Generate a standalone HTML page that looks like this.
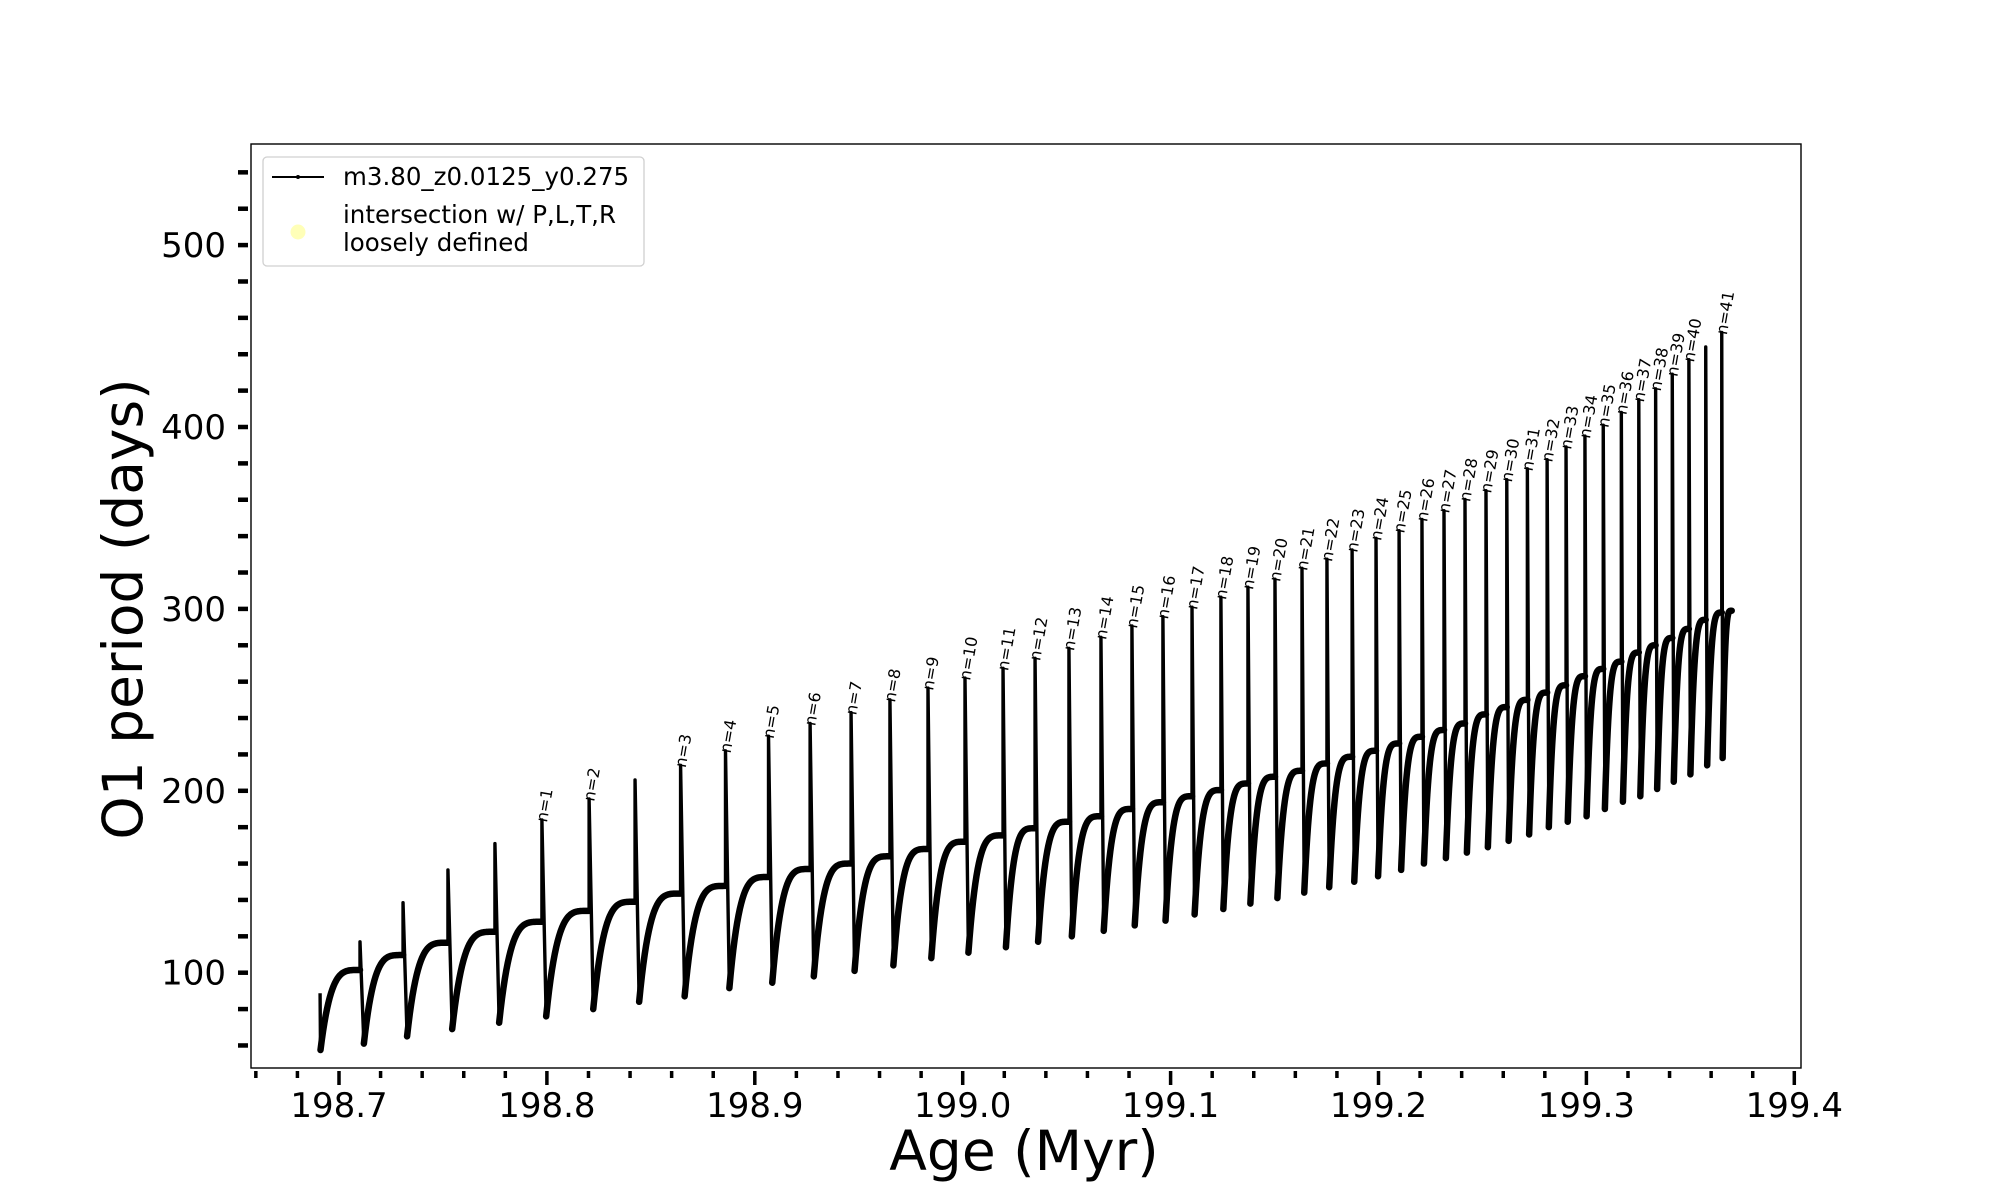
<!DOCTYPE html>
<html>
<head>
<meta charset="utf-8">
<style>
html,body{margin:0;padding:0;background:#fff;}
svg{display:block;font-family:"DejaVu Sans","Liberation Sans",sans-serif;}
</style>
</head>
<body>
<svg id="chart" width="2000" height="1200" viewBox="0 0 2000 1200" xmlns="http://www.w3.org/2000/svg">
  <rect x="0" y="0" width="2000" height="1200" fill="#fff"/>
  <g id="series"></g>
  <g id="labels"></g>
  <rect x="251" y="144" width="1550" height="924" fill="none" stroke="#000" stroke-width="1.4"/>
  <g id="xaxis"></g>
  <g id="yaxis"></g>
  <text x="1024" y="1170" font-size="55" text-anchor="middle">Age (Myr)</text>
  <text transform="translate(142,609) rotate(-90)" font-size="55" text-anchor="middle">O1 period (days)</text>
  <g>
    <rect x="263" y="157" width="381" height="109" rx="4" fill="#fff" fill-opacity="0.8" stroke="#d0d0d0" stroke-width="1.3"/>
    <line x1="272" y1="177" x2="324" y2="177" stroke="#000" stroke-width="2"/>
    <circle cx="298" cy="177" r="2" fill="#000"/>
    <text x="343" y="185" font-size="24.5">m3.80_z0.0125_y0.275</text>
    <circle cx="298" cy="232" r="7.5" fill="#ffffb8"/>
    <text x="343" y="223" font-size="24.5">intersection w/ P,L,T,R</text>
    <text x="343" y="251" font-size="24.5">loosely defined</text>
  </g>
</svg>
<script>
const spikeAge = [198.7101,198.7308,198.7524,198.7750,198.7976,198.8203,198.8424,198.8643,198.8859,198.9066,198.9266,198.9463,198.9650,198.9833,199.0011,199.0194,199.0348,199.0511,199.0665,199.0814,199.0963,199.1103,199.1242,199.1372,199.1502,199.1632,199.1752,199.1873,199.1988,199.2099,199.2209,199.2315,199.2416,199.2517,199.2617,199.2716,199.2811,199.2902,199.2993,199.3081,199.3168,199.3252,199.3333,199.3413,199.3493,199.3574,199.3651];
const peakVal = [117,138.5,156.5,171,184,195.5,206,214,222,230,237,243,250,256.5,262,267.3,272.8,278.3,284.4,290.6,295.7,300.9,306.4,311.9,316.3,322.3,327.3,332.4,338.8,343,349.2,354,360.2,365,371,377,382,389,395,401,408,415,421,429,437,444,452];
const troughVal = [61,65,69,72.5,76,80,84,87,91.5,94.5,98,101,104,108,111,114,117,120,123,126,128.6,132,135,138,141,144,147,150,153,156.5,160,163,166,169,172.5,176,180,183,186,190,194,197,201,205,209,214,218];
const plateauVal = [101.5,109.7,116.5,122.5,128,134,139,143.5,147.7,152.6,157,160,164,168,172,175.5,179.4,183,186,190,193.7,197,200.4,204,207.7,211,215,218.7,222,226,229.7,233.4,237,242,246,250,254,258,263,267,271,276,280,284,289,294,298];
const startAge = 198.6909, startVal = 88.7, startTrough = 57.5;
const endAge = 199.3699, endVal = 299;
const labelIdx = [4,5,7,8,9,10,11,12,13,14,15,16,17,18,19,20,21,22,23,24,25,26,27,28,29,30,31,32,33,34,35,36,37,38,39,40,41,42,43,44,46];
const labelNum = [1,2,3,4,5,6,7,8,9,10,11,12,13,14,15,16,17,18,19,20,21,22,23,24,25,26,27,28,29,30,31,32,33,34,35,36,37,38,39,40,41];
const xTicksMajor = [198.7,198.8,198.9,199.0,199.1,199.2,199.3,199.4];
const xTickLabels = ["198.7","198.8","198.9","199.0","199.1","199.2","199.3","199.4"];
const yTicksMajor = [100,200,300,400,500];
const yTickLabels = ["100","200","300","400","500"];

const NS = "http://www.w3.org/2000/svg";
function X(a){ return 339 + (a - 198.7) * 2079; }
function Y(v){ return 972.7 - (v - 100) * 1.819; }
function mk(tag, attrs, parent){
  const e = document.createElementNS(NS, tag);
  for (const k in attrs) e.setAttribute(k, attrs[k]);
  parent.appendChild(e);
  return e;
}
const series = document.getElementById('series');
function recovery(a0, v0, a1, v1){
  let d = "M" + X(a0).toFixed(2) + "," + Y(v0).toFixed(2);
  const N = 30;
  for (let k = 1; k <= N; k++){
    const s = k / N;
    const f = 1 - Math.pow(1 - s, 4);
    d += " L" + X(a0 + (a1 - a0) * s).toFixed(2) + "," + Y(v0 + (v1 - v0) * f).toFixed(2);
  }
  return d;
}
let recD = "", spikeD = "";
const a0t = startAge + 0.0002;
spikeD += "M" + X(startAge) + "," + Y(startVal) + " L" + X(a0t) + "," + Y(startTrough) + " ";
recD += recovery(a0t, startTrough, spikeAge[0], plateauVal[0]) + " ";
for (let i = 0; i < spikeAge.length; i++){
  const t = spikeAge[i];
  const next = (i + 1 < spikeAge.length) ? spikeAge[i + 1] : endAge;
  const tt = t + 0.09 * (next - t);
  spikeD += "M" + X(t).toFixed(2) + "," + Y(plateauVal[i]).toFixed(2) + " L" + X(t).toFixed(2) + "," + Y(peakVal[i]).toFixed(2) + " L" + X(tt).toFixed(2) + "," + Y(troughVal[i]).toFixed(2) + " ";
  const nv = (i + 1 < spikeAge.length) ? plateauVal[i + 1] : endVal;
  recD += recovery(tt, troughVal[i], next, nv) + " ";
}
const sp = mk('path', {d: spikeD, fill: 'none', stroke: '#000', 'stroke-width': 3.4, 'stroke-linejoin': 'round'}, series);


const rp = mk('path', {d: recD, fill: 'none', stroke: '#000', 'stroke-width': 6.5, 'stroke-linecap': 'round', 'stroke-linejoin': 'round'}, series);



const lg = document.getElementById('labels');
for (let j = 0; j < labelIdx.length; j++){
  const i = labelIdx[j];
  const tx = X(spikeAge[i]) + 5, ty = Y(peakVal[i]) + 3;
  const t = mk('text', {transform: 'translate(' + tx.toFixed(1) + ',' + ty.toFixed(1) + ') rotate(-80)', 'font-size': 16}, lg);
  t.textContent = 'n=' + labelNum[j];
  
  
}

const xg = document.getElementById('xaxis');
for (let k = 0; k <= 37; k++){
  const a = 198.66 + k * 0.02;
  const isMajor = Math.abs((a * 10) - Math.round(a * 10)) < 1e-6;
  const tk = mk('line', {x1: X(a), x2: X(a), y1: 1071, y2: isMajor ? 1085 : 1078, stroke: '#000', 'stroke-width': 3.5}, xg);
  
  
}
for (let k = 0; k < xTicksMajor.length; k++){
  const t = mk('text', {x: X(xTicksMajor[k]), y: 1117, 'font-size': 34, 'text-anchor': 'middle'}, xg);
  t.textContent = xTickLabels[k];
  
  
}
const yg = document.getElementById('yaxis');
for (let v = 60; v <= 540; v += 20){
  const tk = mk('line', {x1: 238, x2: 248, y1: Y(v), y2: Y(v), stroke: '#000', 'stroke-width': 4.5}, yg);
  
  
}
for (let k = 0; k < yTicksMajor.length; k++){
  const t = mk('text', {x: 226, y: Y(yTicksMajor[k]) + 12, 'font-size': 34, 'text-anchor': 'end'}, yg);
  t.textContent = yTickLabels[k];
  
  
}
</script>
</body>
</html>
